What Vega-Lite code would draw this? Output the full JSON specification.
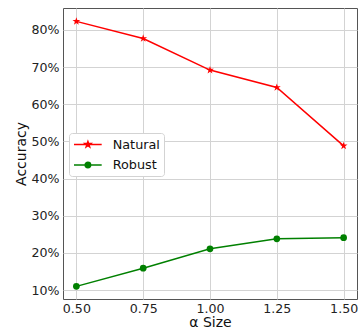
{
  "$schema": "https://vega.github.io/schema/vega-lite/v6.json",
  "width": 294,
  "height": 291,
  "autosize": "none",
  "padding": {"left": 63, "top": 8, "right": 2, "bottom": 33},
  "background": "white",
  "config": {
    "font": "DejaVu Sans",
    "view": {"stroke": "#555", "strokeWidth": 1},
    "axis": {
      "grid": true,
      "gridColor": "#d3d3d3",
      "gridWidth": 1,
      "domain": false,
      "ticks": false,
      "tickSize": 0,
      "labelFont": "DejaVu Sans",
      "labelFontSize": 12.6,
      "labelColor": "#222",
      "titleFont": "DejaVu Sans",
      "titleFontSize": 14,
      "titleFontWeight": "normal",
      "titleColor": "#111"
    }
  },
  "datasets": {
    "acc": [
      {"alpha": 0.5, "acc": 0.823, "series": "Natural"},
      {"alpha": 0.75, "acc": 0.777, "series": "Natural"},
      {"alpha": 1.0, "acc": 0.692, "series": "Natural"},
      {"alpha": 1.25, "acc": 0.645, "series": "Natural"},
      {"alpha": 1.5, "acc": 0.488, "series": "Natural"},
      {"alpha": 0.5, "acc": 0.110, "series": "Robust"},
      {"alpha": 0.75, "acc": 0.159, "series": "Robust"},
      {"alpha": 1.0, "acc": 0.211, "series": "Robust"},
      {"alpha": 1.25, "acc": 0.238, "series": "Robust"},
      {"alpha": 1.5, "acc": 0.241, "series": "Robust"}
    ]
  },
  "data": {"name": "acc"},
  "encoding": {
    "x": {
      "field": "alpha",
      "type": "quantitative",
      "scale": {"domain": [0.45, 1.55], "nice": false, "zero": false},
      "axis": {"values": [0.5, 0.75, 1.0, 1.25, 1.5], "format": ".2f", "title": "α Size", "titlePadding": 1, "labelPadding": 3}
    },
    "y": {
      "field": "acc",
      "type": "quantitative",
      "scale": {"domain": [0.076, 0.859], "nice": false, "zero": false},
      "axis": {"values": [0.1, 0.2, 0.3, 0.4, 0.5, 0.6, 0.7, 0.8], "format": ".0%", "title": "Accuracy", "titlePadding": 3, "labelPadding": 4}
    }
  },
  "layer": [
    {
      "transform": [{"filter": "datum.series === 'Natural'"}],
      "mark": {"type": "line", "color": "#ff0000", "strokeWidth": 1.5}
    },
    {
      "transform": [{"filter": "datum.series === 'Natural'"}],
      "mark": {"type": "point", "filled": true, "color": "#ff0000", "opacity": 1, "size": 68,
        "shape": "M0,-1L0.225,-0.309L0.951,-0.309L0.363,0.118L0.588,0.809L0,0.382L-0.588,0.809L-0.363,0.118L-0.951,-0.309L-0.225,-0.309Z"}
    },
    {
      "transform": [{"filter": "datum.series === 'Robust'"}],
      "mark": {"type": "line", "color": "#008000", "strokeWidth": 1.5}
    },
    {
      "transform": [{"filter": "datum.series === 'Robust'"}],
      "mark": {"type": "point", "filled": true, "color": "#008000", "opacity": 1, "size": 45, "shape": "circle"}
    },
    {
      "mark": {"type": "point", "filled": true, "opacity": 0, "strokeWidth": 1.5},
      "encoding": {
        "fill": {
          "field": "series", "type": "nominal",
          "scale": {"domain": ["Natural", "Robust"], "range": ["#ff0000", "#008000"]},
          "legend": {
            "title": null,
            "orient": "none",
            "legendX": 6,
            "legendY": 125,
            "padding": 4,
            "fillColor": "white",
            "strokeColor": "#d3d3d3",
            "cornerRadius": 3,
            "labelFont": "DejaVu Sans",
            "labelFontSize": 12.8,
            "labelColor": "#111",
            "labelOffset": 24.7,
            "rowPadding": 5.5,
            "symbolSize": 169,
            "symbolStrokeWidth": 1.5,
            "symbolOpacity": 1,
            "encode": {"symbols": {"update": {"opacity": {"value": 1}, "stroke": {"scale": "fill", "field": "value"}, "strokeWidth": {"value": 1.5}}}}
          }
        },
        "shape": {
          "field": "series", "type": "nominal",
          "scale": {"domain": ["Natural", "Robust"], "range": [
            "M-1,0L3.26,0M1.14,-0.45L1.24,-0.14L1.57,-0.14L1.3,0.05L1.4,0.36L1.14,0.17L0.88,0.36L0.98,0.05L0.71,-0.14L1.04,-0.14Z",
            "M-1,0L3.26,0M0.72,0A0.42,0.42 0 1,0 1.56,0A0.42,0.42 0 1,0 0.72,0Z"
          ]},
          "legend": {
            "title": null,
            "orient": "none",
            "legendX": 6,
            "legendY": 125,
            "padding": 4,
            "fillColor": "white",
            "strokeColor": "#d3d3d3",
            "cornerRadius": 3,
            "labelFont": "DejaVu Sans",
            "labelFontSize": 12.8,
            "labelColor": "#111",
            "labelOffset": 24.7,
            "rowPadding": 5.5,
            "symbolSize": 169,
            "symbolStrokeWidth": 1.5,
            "symbolOpacity": 1,
            "encode": {"symbols": {"update": {"opacity": {"value": 1}, "stroke": {"scale": "fill", "field": "value"}, "strokeWidth": {"value": 1.5}}}}
          }
        }
      }
    }
  ]
}
